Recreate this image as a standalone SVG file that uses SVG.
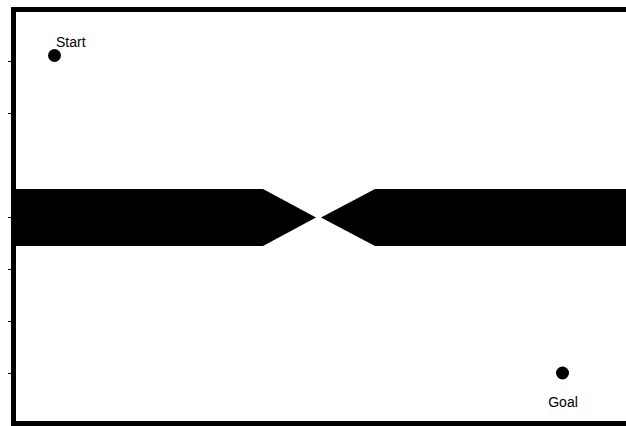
<svg xmlns="http://www.w3.org/2000/svg" width="626" height="426" viewBox="0 0 626 426">
<style>
.lbl{font-family:"Liberation Sans",Arial,sans-serif;font-size:14px;fill:#000}
.tick{stroke:#000;stroke-width:1}
</style>
<rect width="626" height="426" fill="#fff"/>
<g id="frame">
<path d="M626 9.5H13.5V423.5H626" fill="none" stroke="#000" stroke-width="5"/>
<line class="tick" x1="8" y1="61.5" x2="12" y2="61.5"/>
<line class="tick" x1="8" y1="113.5" x2="12" y2="113.5"/>
<line class="tick" x1="8" y1="217.5" x2="12" y2="217.5"/>
<line class="tick" x1="8" y1="269.5" x2="12" y2="269.5"/>
<line class="tick" x1="8" y1="321.5" x2="12" y2="321.5"/>
<line class="tick" x1="8" y1="373.5" x2="12" y2="373.5"/>
</g>
<g id="wall">
<polygon points="16,189 263,189 316,217.5 263,246 16,246" fill="#000"/>
<polygon points="626,189 375,189 321,217.5 375,246 626,246" fill="#000"/>
</g>
<g id="start">
<circle cx="54.5" cy="55.5" r="6.5" fill="#000"/>
<text class="lbl" x="56" y="47">Start</text>
</g>
<g id="goal">
<circle cx="562.5" cy="373" r="6.5" fill="#000"/>
<text class="lbl" x="563" y="407" text-anchor="middle">Goal</text>
</g>
<g id="connectors"></g>
</svg>
